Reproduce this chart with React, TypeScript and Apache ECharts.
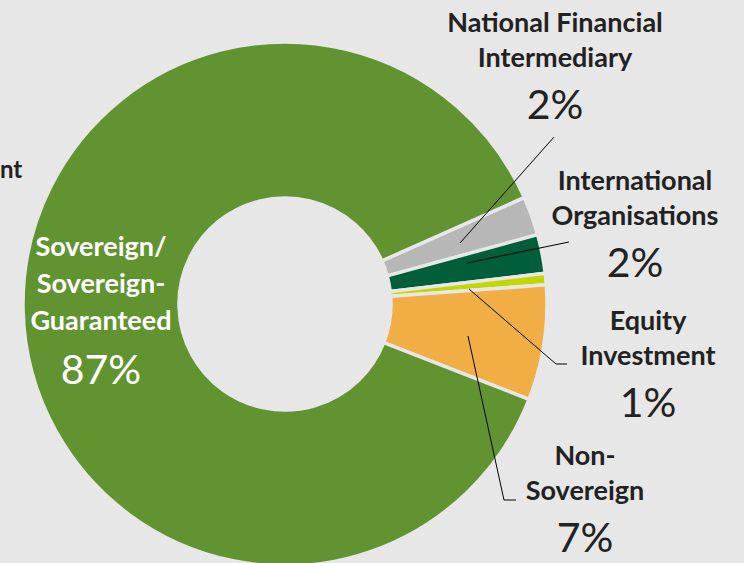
import React, { useEffect, useRef } from "react";
import * as echarts from "echarts";

const categories = [
  "National Financial\nIntermediary",
  "International\nOrganisations",
  "Equity\nInvestment",
  "Non-\nSovereign",
  "Sovereign/\nSovereign-\nGuaranteed",
];
const values = [2.4, 2.4, 0.7, 7.1, 87.4];
const colors = ["#b7b7b7", "#005f3a", "#c4d600", "#f0ae44", "#619430"];

// label placement (layout only)
const labelPos: [number, number][] = [
  [555, 4],
  [635, 162],
  [648, 302],
  [585, 437],
  [101, 227],
];
const leaderLines: number[][][] = [
  [[460, 243], [554, 137]],
  [[467, 263], [569, 242]],
  [[469, 289], [556, 364], [567, 364]],
  [[468, 336], [504, 500], [516, 500]],
];

const BG = "#e7e7e7";
const FONT = "Lato, 'Open Sans', sans-serif";

export default function App() {
  const ref = useRef<HTMLDivElement>(null);
  useEffect(() => {
    if (!ref.current) return;
    const chart = echarts.init(ref.current, undefined, { renderer: "svg" });
    const last = categories.length - 1;
    chart.setOption({
      animation: false,
      backgroundColor: BG,
      graphic: [
        {
          type: "text",
          x: 0,
          y: 156,
          style: {
            text: "nt",
            font: `bold 24px ${FONT}`,
            fill: "#222",
          },
        },
        ...leaderLines.map((pts) => ({
          type: "polyline",
          z: 10,
          shape: { points: pts },
          style: { stroke: "#000", lineWidth: 1, fill: "none" },
        })),
      ],
      series: [
        {
          type: "pie",
          center: [285, 304],
          radius: [106, 262],
          startAngle: 24,
          clockwise: true,
          avoidLabelOverlap: false,
          itemStyle: { borderColor: BG, borderWidth: 3.5 },
          label: {
            show: true,
            position: "outside",
            formatter: (p: any) => {
              const lines = String(p.name).split("\n").map((s: string) => `{b|${s}}`);
              return lines.join("\n") + `\n{p|${Math.round(p.value)}%}`;
            },
            rich: {
              b: { fontFamily: FONT, fontWeight: "bold", fontSize: 27, lineHeight: 35, color: "#222", align: "center" },
              p: { fontFamily: FONT, fontWeight: "normal", fontSize: 41, lineHeight: 58, color: "#222", align: "center" },
            },
          },
          labelLine: { show: false },
          labelLayout: (params: any) => {
            const pos = labelPos[params.dataIndex];
            return { x: pos[0], y: pos[1], align: "center", verticalAlign: "top" };
          },
          data: values.map((v, i) => ({
            name: categories[i],
            value: v,
            itemStyle: { color: colors[i] },
            ...(i === last
              ? {
                  label: {
                    position: "inside",
                    rich: {
                      b: { fontFamily: FONT, fontWeight: "bold", fontSize: 27, lineHeight: 37, color: "#fff", align: "center" },
                      p: { fontFamily: FONT, fontWeight: "normal", fontSize: 41, lineHeight: 60, color: "#fff", align: "center" },
                    },
                  },
                }
              : {}),
          })),
        },
      ],
    });
    return () => chart.dispose();
  }, []);
  return (
    <div
      ref={ref}
      style={{ position: "absolute", left: 0, top: 0, width: 744, height: 563 }}
    />
  );
}
